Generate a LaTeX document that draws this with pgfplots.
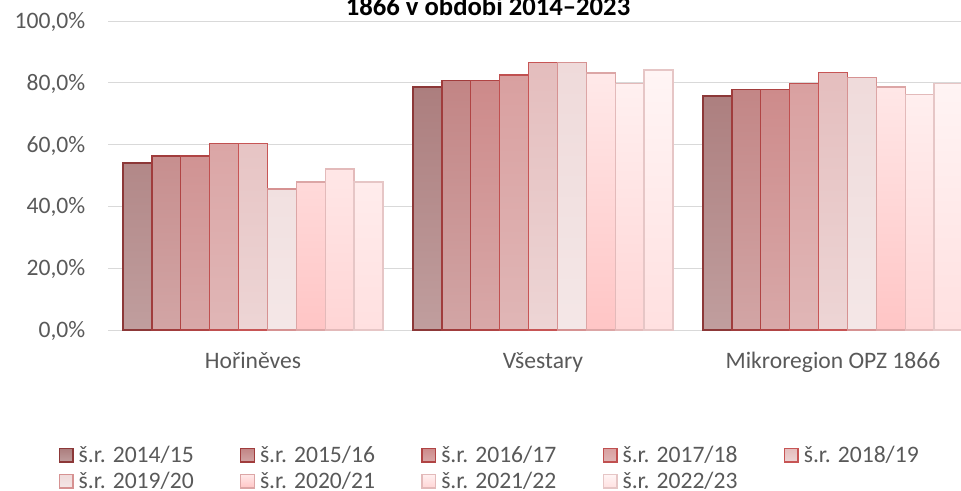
\documentclass[border=0pt]{standalone}
\usepackage{pgfplots}
\pgfplotsset{compat=1.18}
\usepackage{fontspec}
\setmainfont{Carlito}
\definecolor{txt}{HTML}{595959}
\definecolor{grd}{HTML}{D9D9D9}
\pgfplotsset{
  mylegend/.style={legend image code/.code={\draw[##1, line width=1.1pt] (0.55pt,0.55pt) rectangle (10.7pt,10.7pt);}},
  s1/.style={top color={rgb,255:red,172;green,126;blue,126}, bottom color={rgb,255:red,192;green,158;blue,158}, draw={rgb,255:red,140;green,56;blue,56}, mylegend},
  s2/.style={top color={rgb,255:red,194;green,133;blue,133}, bottom color={rgb,255:red,210;green,165;blue,165}, draw={rgb,255:red,160;green,60;blue,60}, mylegend},
  s3/.style={top color={rgb,255:red,205;green,138;blue,138}, bottom color={rgb,255:red,216;green,168;blue,168}, draw={rgb,255:red,176;green,68;blue,68}, mylegend},
  s4/.style={top color={rgb,255:red,217;green,160;blue,160}, bottom color={rgb,255:red,224;green,182;blue,182}, draw={rgb,255:red,192;green,80;blue,80}, mylegend},
  s5/.style={top color={rgb,255:red,228;green,189;blue,189}, bottom color={rgb,255:red,237;green,213;blue,213}, draw={rgb,255:red,199;green,85;blue,85}, mylegend},
  s6/.style={top color={rgb,255:red,239;green,218;blue,218}, bottom color={rgb,255:red,244;green,231;blue,231}, draw={rgb,255:red,214;green,146;blue,146}, mylegend},
  s7/.style={top color={rgb,255:red,255;green,233;blue,233}, bottom color={rgb,255:red,255;green,197;blue,197}, draw={rgb,255:red,220;green,166;blue,166}, mylegend},
  s8/.style={top color={rgb,255:red,255;green,240;blue,240}, bottom color={rgb,255:red,255;green,213;blue,213}, draw={rgb,255:red,227;green,186;blue,186}, mylegend},
  s9/.style={top color={rgb,255:red,255;green,245;blue,245}, bottom color={rgb,255:red,255;green,224;blue,224}, draw={rgb,255:red,230;green,198;blue,198}, mylegend},
}
\newcommand{\lent}[1]{\makebox[124.7pt][l]{\hspace{3.75pt}#1}}
\begin{document}
\begin{tikzpicture}
\begin{axis}[
  at={(81pt,120pt)}, anchor=south west,
  scale only axis, width=652.5pt, height=231.75pt,
  clip=false,
  xmin=-0.5, xmax=2.5, ymin=0, ymax=100,
  ybar=0pt, bar width=0.0997,
  xtick={0,1,2},
  xticklabels={Hořiněves,Všestary,Mikroregion OPZ 1866},
  ytick={0,20,40,60,80,100},
  yticklabels={{0,0\%},{20,0\%},{40,0\%},{60,0\%},{80,0\%},{100,0\%}},
  major tick length=0pt,
  axis line style={draw=none},
  ymajorgrids, grid style={grd, line width=0.75pt},
  tick label style={font=\fontsize{17.7}{21}\selectfont, text=txt},
  yticklabel style={anchor=base east, inner sep=0pt, xshift=-16.5pt, yshift=-5.6pt},
  xticklabel style={anchor=base, inner sep=0pt, yshift=-28.5pt},
  line width=1.1pt,
  legend columns=5,
  legend style={at={(-0.05747,-0.3472)}, anchor=north west, draw=none, fill=none, inner sep=0pt,
    font=\fontsize{17.7}{21}\selectfont, text=txt,
    nodes={inner sep=0pt, text height=18.5pt, text depth=1pt, anchor=base west},
    cells={anchor=base west},
    row sep=0pt, column sep=0pt},
]
\addplot[s1] coordinates {(0,54.1) (1,78.7) (2,75.8)};
\addplot[s2] coordinates {(0,56.3) (1,80.7) (2,77.9)};
\addplot[s3] coordinates {(0,56.3) (1,80.7) (2,77.9)};
\addplot[s4] coordinates {(0,60.3) (1,82.5) (2,79.7)};
\addplot[s5] coordinates {(0,60.3) (1,86.6) (2,83.4)};
\addplot[s6] coordinates {(0,45.7) (1,86.6) (2,81.8)};
\addplot[s7] coordinates {(0,47.9) (1,83.1) (2,78.7)};
\addplot[s8] coordinates {(0,52.1) (1,79.8) (2,76.3)};
\addplot[s9] coordinates {(0,47.9) (1,84.1) (2,79.7)};
\legend{\lent{š.r. 2014/15},\lent{š.r. 2015/16},\lent{š.r. 2016/17},\lent{š.r. 2017/18},\lent{š.r. 2018/19},\lent{š.r. 2019/20},\lent{š.r. 2020/21},\lent{š.r. 2021/22},\lent{š.r. 2022/23}}
\node[anchor=base, inner sep=0pt, font=\fontsize{20}{24}\selectfont\bfseries] at (rel axis cs:0.4368,1.0194) {1866 v období 2014–2023};
\end{axis}
\pgfresetboundingbox
\path[use as bounding box] (0pt,0pt) rectangle (720.75pt,367.5pt);
\end{tikzpicture}
\end{document}
